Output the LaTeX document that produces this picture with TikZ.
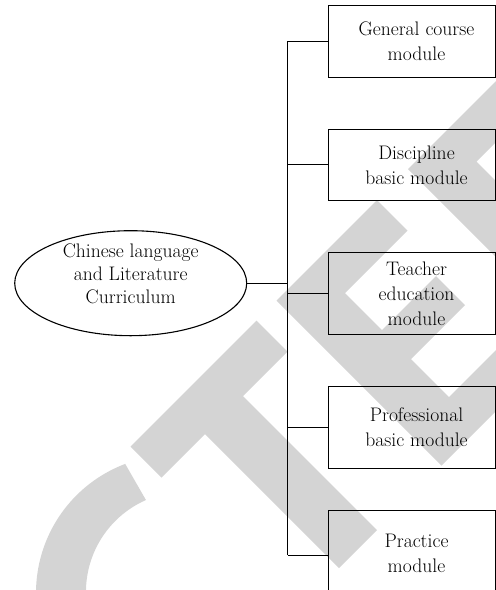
\documentclass[tikz,border=0pt]{standalone}
\usepackage{fontspec}
\usetikzlibrary{shapes.geometric}
\definecolor{wm}{RGB}{212,212,212}
\begin{document}
\begin{tikzpicture}[x=1pt,y=-1pt,
  box/.style={draw, line width=1.1pt, minimum width=166.8pt, inner sep=0pt},
  lbl/.style={align=center, inner sep=0pt, font=\fontsize{19.6}{25}\selectfont},
  elbl/.style={align=center, inner sep=0pt, font=\fontsize{19.6}{23}\selectfont},
  ell/.style={draw, ellipse, line width=1.1pt, minimum width=232pt, minimum height=105pt, inner sep=0pt},
  link/.style={line width=1.1pt}]
\useasboundingbox (0,0) rectangle (496,590);
\clip (0,0) rectangle (496,590);
% watermark (background)
\fill[wm] (125.2,463.9) arc[start angle=-110.7, end angle=-210, radius=138]
  -- (99.4,642) arc[start angle=-210, end angle=-113.7, radius=100.3] -- cycle;
\fill[wm] (130.5,446.5) -- (256.5,320.5) -- (287.5,351.5) -- (243,396) -- (377,530)
  -- (339,568) -- (205,434) -- (161.5,477.5) -- cycle;
\fill[wm] (276.5,300.5) -- (377,200) -- (407.5,230.5) -- (345,293) -- (382,330)
  -- (436,276) -- (465,305) -- (411,359) -- (449,397) -- (515.5,330.5)
  -- (546,361) -- (441.5,465.5) -- cycle;
\fill[wm] (408,169) -- (513.5,63.5) -- (544,94) -- (476.5,161.5) -- (611,296)
  -- (573,334) -- cycle;
% diagram
\node[ell] (root) at (130.7,283.2) {};
\node[elbl] (rootlbl) at (130.7,274) {Chinese language\\and Literature\\Curriculum};
\node[box, minimum height=72.3pt] (b1) at (412.1,41.45) {};
\node[box, minimum height=71.5pt] (b2) at (412.1,164.85) {};
\node[box, minimum height=81.6pt] (b3) at (412.1,293.4) {};
\node[box, minimum height=82pt] (b4) at (412.1,427.25) {};
\node[box, minimum height=90pt] (b5) at (412.1,555.1) {};
\node[lbl] (t1) at (416.5,41.45) {General course\\module};
\node[lbl] (t2) at (416.5,164.85) {Discipline\\basic module};
\node[lbl] (t3) at (416.5,293.4) {Teacher\\education\\module};
\node[lbl] (t4) at (416.5,427.25) {Professional\\basic module};
\node[lbl] (t5) at (416.5,553) {Practice\\module};
\coordinate (trunk) at (287.5,0);
\draw[link] (root.east) -- (root.east -| trunk);
\draw[link] (b1.west -| trunk) -- (b5.west -| trunk);
\foreach \b in {b1,b2,b3,b4,b5} \draw[link] (\b.west -| trunk) -- (\b.west);
\end{tikzpicture}
\end{document}
